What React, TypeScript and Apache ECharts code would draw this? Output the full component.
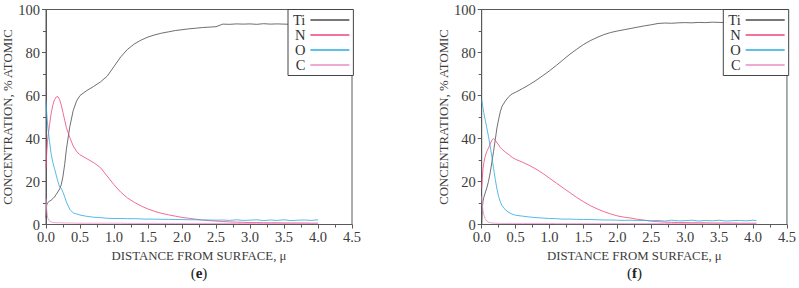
import React, { useEffect, useRef } from "react";
import * as echarts from "echarts";

// Sputter depth profiles: concentration (% atomic) versus depth (µm)
const depthsE = [
  0, 0.01, 0.02, 0.03, 0.05, 0.075, 0.1, 0.125, 0.15, 0.175, 0.2, 0.225, 0.25, 0.275, 0.3, 0.35, 0.4, 0.45, 0.5,
  0.6, 0.7, 0.8, 0.9, 1.0, 1.1, 1.2, 1.3, 1.4, 1.5, 1.6, 1.7, 1.8, 1.9, 2.0, 2.1, 2.2, 2.3, 2.4, 2.5,
  2.6, 2.7, 2.8, 2.9, 3.0, 3.1, 3.2, 3.3, 3.4, 3.5, 3.6, 3.7, 3.8, 3.9, 4.0,
];
const depthsF = [
  0, 0.01, 0.02, 0.03, 0.05, 0.075, 0.1, 0.125, 0.15, 0.175, 0.2, 0.225, 0.25, 0.275, 0.3, 0.35, 0.4, 0.45, 0.5,
  0.6, 0.7, 0.8, 0.9, 1.0, 1.1, 1.2, 1.3, 1.4, 1.5, 1.6, 1.7, 1.8, 1.9, 2.0, 2.1, 2.2, 2.3, 2.4, 2.5,
  2.6, 2.7, 2.8, 2.9, 3.0, 3.1, 3.2, 3.3, 3.4, 3.5, 3.6, 3.7, 3.8, 3.9, 4.0, 4.05,
];

// Panel (e)
const tiE = [
  3, 9, 10, 10.3, 10.8, 11.3, 12, 12.8, 14, 15.2, 16.5, 18.5, 22.5, 28, 35, 45.5, 53, 57.5, 60,
  62.3, 64.2, 66.3, 69, 73.5, 78, 81.5, 84, 85.8, 87.2, 88.2, 89, 89.6, 90.2, 90.6, 91, 91.3, 91.6, 91.8, 92,
  93.2, 93.1, 93.3, 93.2, 93.3, 93.1, 93.4, 93.2, 93.3, 93.2, 93.1, 93.3, 93.2, 93.1, 93.2,
];
const nE = [
  26, 33, 38, 41, 46, 51.5, 55.5, 58, 59.3, 59.5, 58, 55.5, 52, 48.5, 45, 40.5, 36.5, 34, 32.4,
  30.6, 28.8, 26.5, 22.5, 18.5, 15, 12.3, 10.3, 8.6, 7.2, 6.1, 5.2, 4.5, 3.9, 3.3, 2.9, 2.5, 2.1, 1.8, 1.6,
  1.4, 1.2, 1.1, 1.0, 0.9, 0.9, 0.8, 0.8, 0.8, 0.7, 0.7, 0.7, 0.7, 0.6, 0.6,
];
const oE = [
  57, 52, 48, 44.5, 39, 33, 29, 26, 23, 20, 17.5, 16.8, 15, 12.8, 10.5, 7, 5.4, 4.9, 4.4,
  3.8, 3.4, 3.2, 2.9, 2.8, 2.8, 2.7, 2.7, 2.6, 2.5, 2.5, 2.4, 2.4, 2.3, 2.3, 2.2, 2.2, 2.1, 2.1, 2.0,
  2.1, 1.9, 2.2, 1.9, 2.0, 2.2, 1.8, 2.1, 1.9, 2.2, 1.8, 2.0, 2.1, 1.9, 2.2,
];
const cE = [
  12, 7, 4, 2.6, 1.6, 1.2, 1.0, 0.9, 0.8, 0.8, 0.8, 0.8, 0.7, 0.7, 0.7, 0.7, 0.7, 0.6, 0.6,
  0.6, 0.6, 0.6, 0.6, 0.6, 0.6, 0.5, 0.5, 0.5, 0.5, 0.5, 0.5, 0.5, 0.5, 0.5, 0.5, 0.5, 0.5, 0.5, 0.5,
  0.5, 0.5, 0.5, 0.5, 0.5, 0.5, 0.5, 0.5, 0.5, 0.5, 0.5, 0.5, 0.5, 0.5, 0.5,
];

// Panel (f)
const tiF = [
  0, 8, 11, 12.5, 14.5, 17, 20, 24, 29, 34, 39.5, 45, 49, 52.5, 55, 57.5, 59.5, 60.8, 61.5,
  63.2, 65, 67, 69.2, 71.5, 74, 76.6, 79.2, 81.5, 83.7, 85.5, 87, 88.3, 89.3, 90, 90.6, 91.2, 91.8, 92.4, 92.9,
  93.5, 93.7, 93.6, 93.8, 93.9, 93.8, 94, 93.9, 94.1, 94, 93.9, 94.1, 94, 94, 94.1, 94,
];
const nF = [
  17, 22, 26, 28.5, 31.5, 34, 35.5, 37.5, 39.2, 40, 39.3, 38, 37, 35.8, 35, 33.6, 32.5, 31.2, 30.3,
  29, 27.5, 25.8, 23.8, 21.5, 19.3, 17, 14.8, 12.6, 10.6, 8.8, 7.3, 6, 4.9, 4.0, 3.4, 3.0, 2.4, 2.0, 1.6,
  1.3, 1.1, 1.0, 0.9, 0.9, 0.8, 0.8, 0.8, 0.7, 0.7, 0.7, 0.7, 0.6, 0.6, 0.6, 0.6,
];
const oF = [
  58, 56, 54, 52, 49, 45, 41, 36.5, 31.5, 26, 21, 16.5, 13, 10.5, 8.8, 6.8, 5.6, 4.8, 4.3,
  3.9, 3.5, 3.2, 3.0, 2.8, 2.7, 2.5, 2.5, 2.4, 2.3, 2.3, 2.2, 2.1, 2.1, 2.0, 1.9, 2.0, 1.8, 1.9, 1.7,
  1.9, 1.6, 2.0, 1.7, 1.8, 2.0, 1.6, 1.9, 1.7, 2.0, 1.6, 1.8, 1.9, 1.7, 2.0, 1.8,
];
const cF = [
  13, 9, 6.5, 4.8, 2.8, 1.6, 1.1, 0.9, 0.7, 0.6, 0.6, 0.6, 0.5, 0.5, 0.5, 0.5, 0.5, 0.5, 0.5,
  0.5, 0.5, 0.5, 0.5, 0.5, 0.4, 0.4, 0.4, 0.4, 0.4, 0.4, 0.4, 0.4, 0.4, 0.4, 0.4, 0.4, 0.4, 0.4, 0.4,
  0.4, 0.4, 0.4, 0.4, 0.4, 0.4, 0.4, 0.4, 0.4, 0.4, 0.4, 0.4, 0.4, 0.4, 0.4, 0.4,
];

const elements = ["Ti", "N", "O", "C"];
const colors: Record<string, string> = { Ti: "#4a4a4a", N: "#f0457a", O: "#2aaae0", C: "#ea8ec4" };
const panelLabels = ["e", "f"];
const xTitle = "DISTANCE FROM SURFACE, μ";
const yTitle = "CONCENTRATION, % ATOMIC";

const FONT = "Liberation Serif";
const INK = "#3c3c3c";
const AXIS = "#5a5a5a";

export default function App() {
  const ref = useRef<HTMLDivElement>(null);

  useEffect(() => {
    if (!ref.current) return;
    const chart = echarts.init(ref.current, undefined, { renderer: "svg" });

    const panels = [
      { depths: depthsE, values: { Ti: tiE, N: nE, O: oE, C: cE } as Record<string, number[]> },
      { depths: depthsF, values: { Ti: tiF, N: nF, O: oF, C: cF } as Record<string, number[]> },
    ];
    const grids = [
      { left: 46, width: 306, top: 9.5, height: 215 },
      { left: 481.7, width: 305.6, top: 9.5, height: 215 },
    ];

    const xAxes = grids.map((_, i) => ({
      type: "value",
      gridIndex: i,
      min: 0,
      max: 4.5,
      interval: 0.5,
      name: xTitle,
      nameLocation: "middle",
      nameGap: 20,
      nameTextStyle: { fontFamily: FONT, fontSize: 12.8, color: INK },
      axisLine: { lineStyle: { color: AXIS, width: 1 } },
      axisTick: { show: true, length: 4, lineStyle: { color: AXIS } },
      minorTick: { show: true, splitNumber: 2, length: 3, lineStyle: { color: AXIS } },
      splitLine: { show: false },
      axisLabel: {
        margin: 5,
        fontFamily: FONT,
        fontSize: 14.5,
        color: INK,
        formatter: (v: number) => v.toFixed(1),
      },
    }));

    const yAxes = grids.map((_, i) => ({
      type: "value",
      gridIndex: i,
      min: 0,
      max: 100,
      interval: 20,
      name: yTitle,
      nameLocation: "middle",
      nameGap: 30,
      nameTextStyle: { fontFamily: FONT, fontSize: 12.8, color: INK },
      axisLine: { show: true, lineStyle: { color: AXIS, width: 1 } },
      axisTick: { show: true, length: 4, lineStyle: { color: AXIS } },
      minorTick: { show: true, splitNumber: 2, length: 3, lineStyle: { color: AXIS } },
      splitLine: { show: false },
      axisLabel: { margin: 6, fontFamily: FONT, fontSize: 14.5, color: INK },
    }));

    const series: any[] = [];
    panels.forEach((p, i) => {
      elements.forEach((el) => {
        series.push({
          type: "line",
          name: el,
          xAxisIndex: i,
          yAxisIndex: i,
          showSymbol: false,
          symbol: "none",
          data: p.depths.map((d, k) => [d, p.values[el][k]]),
          lineStyle: { color: colors[el], width: 0.8 },
          itemStyle: { color: colors[el] },
        });
      });
    });

    const legends = grids.map((g) => ({
      orient: "vertical",
      left: g.left + g.width - 64,
      top: 9.5,
      align: "right",
      icon: "rect",
      itemWidth: 39,
      itemHeight: 1.5,
      itemGap: 0,
      padding: [3, 4, 3, 5],
      backgroundColor: "#ffffff",
      borderColor: "#444",
      borderWidth: 1,
      borderRadius: 0,
      selectedMode: false,
      textStyle: { fontFamily: FONT, fontSize: 14.5, color: "#333", lineHeight: 14 },
      data: elements.map((el) => ({ name: el, itemStyle: { color: colors[el] } })),
    }));

    const graphic = grids.map((g, i) => ({
      type: "text",
      x: g.left + g.width / 2,
      y: 273,
      style: {
        text: `{p|(}{b|${panelLabels[i]}}{p|)}`,
        align: "center",
        verticalAlign: "middle",
        rich: {
          p: { fontFamily: FONT, fontSize: 15, fill: "#222" },
          b: { fontFamily: FONT, fontSize: 15, fontWeight: "bold", fill: "#222" },
        },
      },
    }));

    chart.setOption({
      animation: false,
      backgroundColor: "#ffffff",
      grid: grids.map((g) => ({
        ...g,
        show: true,
        borderColor: AXIS,
        borderWidth: 1,
        backgroundColor: "transparent",
        containLabel: false,
      })),
      xAxis: xAxes,
      yAxis: yAxes,
      legend: legends,
      series,
      graphic,
    });

    return () => chart.dispose();
  }, []);

  return (
    <div
      ref={ref}
      style={{ position: "absolute", left: 0, top: 0, width: 799, height: 288 }}
    />
  );
}
